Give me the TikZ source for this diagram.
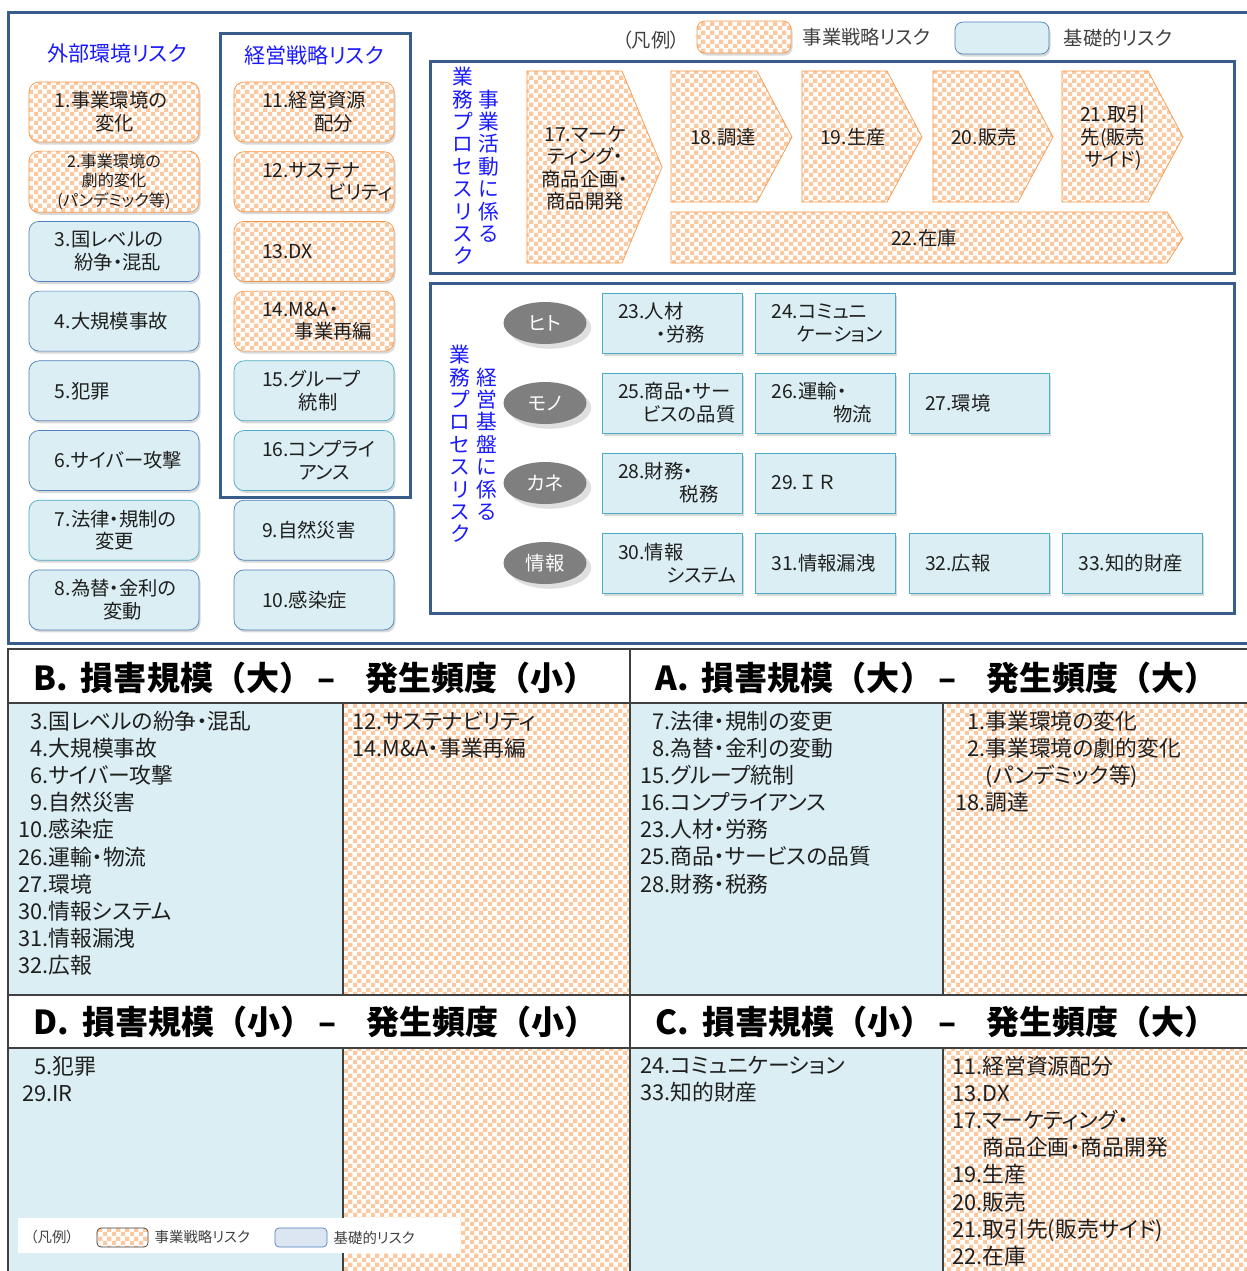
\documentclass[tikz,border=0pt]{standalone}
\usepackage{fontspec}
\setmainfont{Noto Sans CJK JP}[RawFeature=+palt]
\newfontfamily\jpwide{Noto Sans CJK JP}
\usetikzlibrary{positioning, shapes.geometric, shadows, patterns}

\definecolor{orng}{HTML}{F79646}
\definecolor{peach}{HTML}{FBC8A0}
\definecolor{lblue}{HTML}{DAEEF3}
\definecolor{kblue}{HTML}{4F81BD}
\definecolor{tblue}{HTML}{4BACC6}
\definecolor{wakuiro}{HTML}{385D8A}
\definecolor{ink}{HTML}{1F1F1F}
\definecolor{aoji}{HTML}{1A1AFF}
\definecolor{keisen}{HTML}{404040}
\definecolor{nezumi}{HTML}{7F7F7F}
\definecolor{usuao}{HTML}{DCE6F2}

% checker pattern, a bit larger than the library one
\pgfdeclarepatternformonly{ichimatsu}{\pgfqpoint{0pt}{0pt}}{\pgfqpoint{4.9pt}{4.9pt}}{\pgfqpoint{4.9pt}{4.9pt}}{
  \pgfpathrectangle{\pgfpointorigin}{\pgfqpoint{2.45pt}{2.45pt}}
  \pgfpathrectangle{\pgfqpoint{2.45pt}{2.45pt}}{\pgfqpoint{2.45pt}{2.45pt}}
  \pgfusepath{fill}
}

\begin{document}
\begin{tikzpicture}[x=0.2mm, y=-0.2mm, node distance=13.94mm,
    hako/.style = {minimum height=12mm, rounded corners=2mm, text=ink, inner sep=0.5mm,
                   font=\fontsize{11}{13}\selectfont,
                   drop shadow={shadow xshift=0.3mm, shadow yshift=-0.5mm, opacity=0.3}},
    senryaku/.style = {hako, preaction={fill=white}, draw=orng, pattern=ichimatsu, pattern color=peach},
    kiso/.style = {hako, draw=kblue, fill=lblue},
    gaibu/.style = {minimum width=34mm, text width=23.6mm, align=left},
    keiei/.style = {minimum width=32mm, text width=20.8mm, align=left},
    kiban/.style = {kiso, sharp corners, draw=tblue, minimum width=28mm, text width=21.6mm, align=left},
    maru/.style = {ellipse, fill=nezumi, text=white, minimum width=16.6mm, minimum height=8.4mm,
                   font=\fontsize{11}{13}\selectfont, drop shadow={opacity=0.25}},
    chev/.style = {draw=orng, preaction={fill=white}, pattern=ichimatsu, pattern color=peach},
    chevtext/.style = {align=center, text=ink, font=\fontsize{11}{12.8}\selectfont},
    tate/.style = {align=center, inner sep=0, text=aoji, font=\fontsize{11.8}{12.75}\selectfont},
    midashi/.style = {text=aoji, font=\fontsize{12}{13}\selectfont},
    hanrei/.style = {inner sep=0, text=keisen, font=\fontsize{11}{13}\selectfont},
    waku/.style = {draw=wakuiro, line width=0.6mm},
    hyou/.style = {draw=keisen, line width=0.35mm},
    daimei/.style = {anchor=west, inner sep=0, font=\jpwide\bfseries\fontsize{18.8}{20}\selectfont},
    ichiran/.style = {anchor=north west, inner sep=0, align=left, text=ink, font=\fontsize{12.4}{15.4}\selectfont},
  ]
\useasboundingbox (0,0) rectangle (1247,1271);
\clip (0,0) rectangle (1247,1271);

% upper half: frames
\draw[waku] (8,12) rectangle (1262,643);
\draw[waku] (220,33) rectangle (410,497);
\draw[waku] (430,61) rectangle (1234,273);
\draw[waku] (430,283) rectangle (1234,613);

\node (gaibu) [midashi] at (117,53) {外部環境リスク};
\node (keiei) [midashi] at (314,55) {経営戦略リスク};

% legend
\node (hanrei) [hanrei] at (651,40) {（凡例）};
\node (lgS) [senryaku, minimum width=18.8mm, minimum height=6.4mm, rounded corners=1.6mm] at (744,37) {};
\node (lgSt) [hanrei, right=2.2mm of lgS] {事業戦略リスク};
\node (lgK) [kiso, minimum width=18.8mm, minimum height=6.4mm, rounded corners=1.6mm] at (1002,38) {};
\node (lgKt) [hanrei, right=2.8mm of lgK] {基礎的リスク};

% external environment column
\node (r1) [senryaku, gaibu] at (114,112) {1.事業環境の\\\hspace*{2.1em}変化};
\node (r2) [senryaku, gaibu, below of=r1, align=center, font=\fontsize{9.2}{11.2}\selectfont] {2.事業環境の\\劇的変化\\(パンデミック等)};
\node (r3) [kiso, gaibu, below of=r2] {3.国レベルの\\\hspace*{1em}紛争・混乱};
\node (r4) [kiso, gaibu, below of=r3] {4.大規模事故};
\node (r5) [kiso, gaibu, below of=r4] {5.犯罪};
\node (r6) [kiso, gaibu, below of=r5] {6.サイバー攻撃};
\node (r7) [kiso, gaibu, below of=r6, draw=tblue] {7.法律・規制の\\\hspace*{2.1em}変更};
\node (r8) [kiso, gaibu, below of=r7] {8.為替・金利の\\\hspace*{2.5em}変動};

% management strategy column
\node (r11) [senryaku, keiei] at (314,112) {11.経営資源\\\hspace*{2.7em}配分};
\node (r12) [senryaku, keiei, below of=r11] {12.サステナ\\\hspace*{3.4em}ビリティ};
\node (r13) [senryaku, keiei, below of=r12] {13.DX};
\node (r14) [senryaku, keiei, below of=r13] {14.M\&A・\\\hspace*{1.7em}事業再編};
\node (r15) [kiso, keiei, below of=r14, draw=tblue] {15.グループ\\\hspace*{1.9em}統制};
\node (r16) [kiso, keiei, below of=r15, draw=tblue] {16.コンプライ\\\hspace*{1.9em}アンス};
\node (r9) [kiso, keiei, below of=r16] {9.自然災害};
\node (r10) [kiso, keiei, below of=r9] {10.感染症};

% business activity process
\node (tate1) [tate] at (463,166) {業\\務\\プ\\ロ\\セ\\ス\\リ\\ス\\ク};
\node (tate2) [tate] at (489,166) {事\\業\\活\\動\\に\\係\\る};

\draw[chev] (527,71) -- (622,71) -- (662,167) -- (622,263) -- (527,263) -- cycle;
\draw[chev] (671,71) -- (757,71) -- (792,137) -- (757,202) -- (671,202) -- cycle;
\draw[chev] (802,71) -- (887,71) -- (922,137) -- (887,202) -- (802,202) -- cycle;
\draw[chev] (933,71) -- (1018,71) -- (1053,137) -- (1018,202) -- (933,202) -- cycle;
\draw[chev] (1062,71) -- (1148,71) -- (1183,137) -- (1148,202) -- (1062,202) -- cycle;
\draw[chev] (671,212) -- (1167,212) -- (1183,238) -- (1167,263) -- (671,263) -- cycle;

\node (c17) [chevtext] at (585,168) {17.マーケ\\ティング・\\商品企画・\\商品開発};
\node (c18) [chevtext] at (723,137) {18.調達};
\node (c19) [chevtext] at (853,137) {19.生産};
\node (c20) [chevtext] at (984,137) {20.販売};
\node (c21) [chevtext] at (1113,138) {21.取引\\先(販売\\サイド)};
\node (c22) [chevtext] at (924,238) {22.在庫};

% management base process
\node (tate3) [tate] at (460,444) {業\\務\\プ\\ロ\\セ\\ス\\リ\\ス\\ク};
\node (tate4) [tate] at (487,444) {経\\営\\基\\盤\\に\\係\\る};

\begin{scope}[node distance=16mm]
\node (e1) [maru] at (545,323) {ヒト};
\node (e2) [maru, below of=e1] {モノ};
\node (e3) [maru, below of=e2] {カネ};
\node (e4) [maru, below of=e3] {情報};

\node (h23) [kiban] at (672,323) {23.人材\\\hspace*{2em}・労務};
\node (h25) [kiban, below of=h23] {25.商品・サー\\\hspace*{1.3em}ビスの品質};
\node (h28) [kiban, below of=h25] {28.財務・\\\hspace*{3.2em}税務};
\node (h30) [kiban, below of=h28] {30.情報\\\hspace*{2.5em}システム};
\end{scope}
\begin{scope}[node distance=30.7mm]
\node (h24) [kiban, right of=h23] {24.コミュニ\\\hspace*{1.3em}ケーション};
\node (h26) [kiban, right of=h25] {26.運輸・\\\hspace*{3.2em}物流};
\node (h27) [kiban, right of=h26] {27.環境};
\node (h29) [kiban, right of=h28] {\jpwide 29.ＩＲ};
\node (h31) [kiban, right of=h30] {31.情報漏洩};
\node (h32) [kiban, right of=h31] {32.広報};
\node (h33) [kiban, right of=h32] {33.知的財産};
\end{scope}

% lower half: matrix table
\fill[lblue] (8,703) rectangle (343,995);
\fill[pattern=ichimatsu, pattern color=peach] (343,703) rectangle (630,995);
\fill[lblue] (630,703) rectangle (943,995);
\fill[pattern=ichimatsu, pattern color=peach] (943,703) rectangle (1260,995);
\fill[lblue] (8,1048) rectangle (343,1280);
\fill[pattern=ichimatsu, pattern color=peach] (343,1048) rectangle (630,1280);
\fill[lblue] (630,1048) rectangle (943,1280);
\fill[pattern=ichimatsu, pattern color=peach] (943,1048) rectangle (1260,1280);

\draw[hyou] (8,1280) -- (8,649) -- (1260,649);
\draw[hyou] (630,649) -- (630,1280);
\draw[hyou] (8,703) -- (1260,703);
\draw[hyou] (8,995) -- (1260,995);
\draw[hyou] (8,1048) -- (1260,1048);
\draw[hyou] (343,703) -- (343,995);
\draw[hyou] (943,703) -- (943,995);
\draw[hyou] (343,1048) -- (343,1280);
\draw[hyou] (943,1048) -- (943,1280);

\node (tB) [daimei] at (33,678) {B.~\,損害規模（大）\,–\hspace{0.9em}発生頻度（小）};
\node (tA) [daimei] at (655,678) {A.~\,損害規模（大）\,–\hspace{0.9em}発生頻度（大）};
\node (tD) [daimei] at (33,1022) {D.~\,損害規模（小）\,–\hspace{0.9em}発生頻度（小）};
\node (tC) [daimei] at (655,1022) {C.~\,損害規模（小）\,–\hspace{0.9em}発生頻度（大）};

\node (lB1) [ichiran] at (18,711) {\phantom{0}3.国レベルの紛争・混乱\\\phantom{0}4.大規模事故\\\phantom{0}6.サイバー攻撃\\\phantom{0}9.自然災害\\10.感染症\\26.運輸・物流\\27.環境\\30.情報システム\\31.情報漏洩\\32.広報};
\node (lB2) [ichiran] at (352,711) {12.サステナビリティ\\14.M\&A・事業再編};
\node (lA1) [ichiran] at (640,711) {\phantom{0}7.法律・規制の変更\\\phantom{0}8.為替・金利の変動\\15.グループ統制\\16.コンプライアンス\\23.人材・労務\\25.商品・サービスの品質\\28.財務・税務};
\node (lA2) [ichiran] at (955,711) {\phantom{0}1.事業環境の変化\\\phantom{0}2.事業環境の劇的変化\\\phantom{00.}(パンデミック等)\\18.調達};
\node (lD1) [ichiran] at (22,1056) {\phantom{0}5.犯罪\\29.IR};
\node (lC1) [ichiran] at (640,1056) {24.コミュニケーション\\33.知的財産};
\node (lC2) [ichiran] at (952,1056) {11.経営資源配分\\13.DX\\17.マーケティング・\\\phantom{17.}商品企画・商品開発\\19.生産\\20.販売\\21.取引先(販売サイド)\\22.在庫};

% small legend in the corner
\fill[white] (18,1218) rectangle (460,1253);
\node (hanrei2) [hanrei, font=\fontsize{8.2}{9}\selectfont] at (52,1237) {（凡例）};
\node (sS) [draw=keisen, preaction={fill=white}, pattern=ichimatsu, pattern color=peach, rounded corners=0.8mm,
            minimum width=10.2mm, minimum height=3.8mm] at (122.5,1237.5) {};
\node (sSt) [hanrei, font=\fontsize{8.2}{9}\selectfont, right=1.2mm of sS] {事業戦略リスク};
\node (sK) [draw=kblue, fill=usuao, rounded corners=0.8mm, minimum width=10.4mm, minimum height=3.8mm] at (301,1237.5) {};
\node (sKt) [hanrei, font=\fontsize{8.2}{9}\selectfont, right=1.2mm of sK] {基礎的リスク};
\end{tikzpicture}
\end{document}
